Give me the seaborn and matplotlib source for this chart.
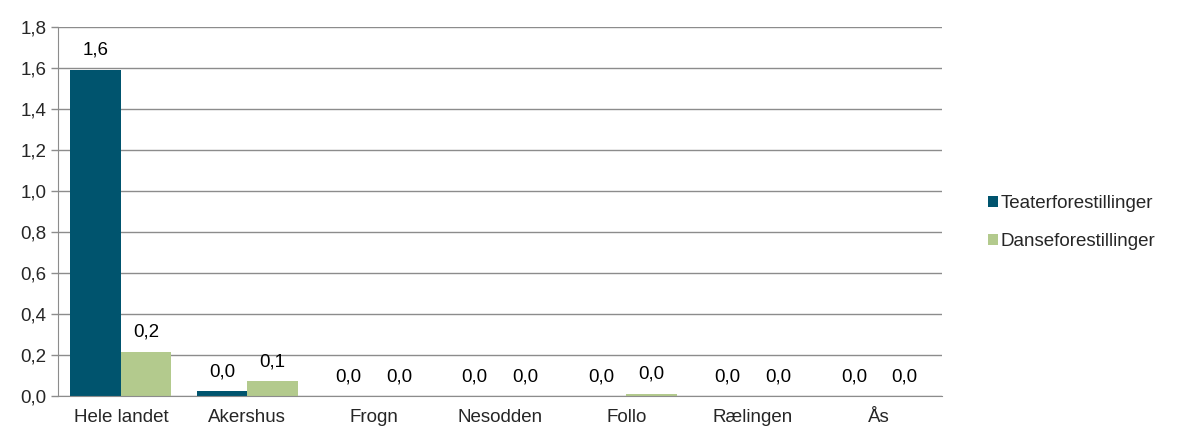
import numpy as np
import pandas as pd
import matplotlib
matplotlib.use("Agg")
import matplotlib.pyplot as plt
import seaborn as sns

# -----------------------------------
# Data
# -----------------------------------

regions = ["Hele landet", "Akershus", "Frogn", "Nesodden", "Follo", "Rælingen", "Ås"]
teater = [1.59, 0.024, 0.0, 0.0, 0.0, 0.0, 0.0]
danse = [0.215, 0.072, 0.0, 0.0, 0.011, 0.0, 0.0]
series = ["Teaterforestillinger", "Danseforestillinger"]
colors = ["#00546E", "#B3CA8D"]
y_ticks = [0.0, 0.2, 0.4, 0.6, 0.8, 1.0, 1.2, 1.4, 1.6, 1.8]

df = pd.DataFrame({
    "Region": regions * 2,
    "Serie": [series[0]] * len(regions) + [series[1]] * len(regions),
    "Verdi": teater + danse,
})

# -----------------------------------
# Plot
# -----------------------------------

sns.set_style("white")
plt.rcParams["font.family"] = ["Liberation Sans", "DejaVu Sans"]
fs = 13.5

fig = plt.figure(figsize=(11.78, 4.32), dpi=100)
ax = fig.add_axes([0.049, 0.083, 0.751, 0.855])

sns.barplot(
    data=df, x="Region", y="Verdi", hue="Serie",
    palette=colors, width=0.8, gap=0, saturation=1,
    order=regions, hue_order=series, ax=ax,
    linewidth=0, edgecolor="none",
)

# value labels
for cont in ax.containers:
    vals = cont.datavalues
    ax.bar_label(cont, labels=[f"{v:.1f}".replace(".", ",") for v in vals],
                 padding=8, fontsize=fs, color="black")

grid_col = "#8C8C8C"
ax.set_ylim(0, 1.8)
ax.set_xlim(-0.5, len(regions) - 0.5)
ax.set_yticks(y_ticks)
ax.set_yticklabels([f"{t:.1f}".replace(".", ",") for t in y_ticks], fontsize=fs)
ax.yaxis.grid(True, color=grid_col, linewidth=1)
ax.set_axisbelow(True)

ax.set_xticks(range(len(regions)))
ax.set_xticklabels(regions, fontsize=fs)
ax.set_xticks(np.arange(-0.5, len(regions)), minor=True)
ax.tick_params(axis="x", which="major", length=0, pad=9)
ax.tick_params(axis="x", which="minor", length=5, color=grid_col, width=1)
ax.tick_params(axis="y", length=5, color=grid_col, width=1, left=True, pad=3)

for side in ["top", "right"]:
    ax.spines[side].set_visible(False)
ax.spines["left"].set_color(grid_col)
ax.spines["bottom"].set_color(grid_col)

ax.set_xlabel("")
ax.set_ylabel("")

handles, labels = ax.get_legend_handles_labels()
ax.legend(handles, labels, loc="center left", bbox_to_anchor=(1.051, 0.47),
          frameon=False, fontsize=fs, handlelength=0.55, handleheight=0.55,
          handletextpad=0.15, labelspacing=1.1, borderpad=0, borderaxespad=0)

fig.savefig("out.png", dpi=100)
